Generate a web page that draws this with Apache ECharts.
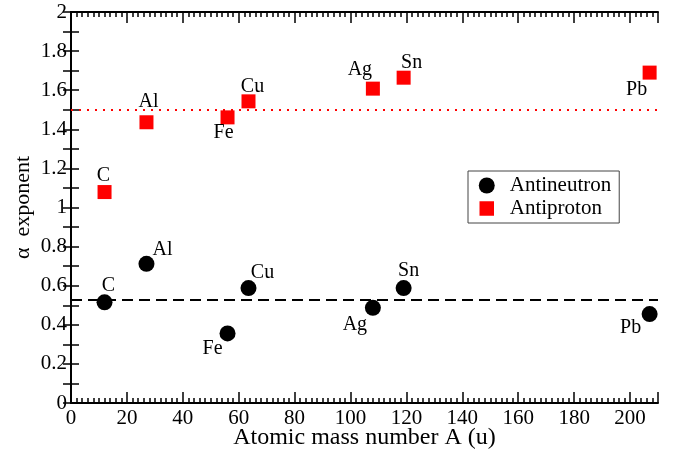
<!DOCTYPE html>
<html>
<head>
<meta charset="utf-8">
<script src="https://cdn.jsdelivr.net/npm/echarts@6/dist/echarts.min.js"></script>
<style>
  html, body { margin: 0; padding: 0; background: #fff; }
  #chart { width: 678px; height: 455px; }
</style>
</head>
<body>
<div id="chart"></div>
<script>
// 数据
var elements = ['C', 'Al', 'Fe', 'Cu', 'Ag', 'Sn', 'Pb'];
var massA = [12, 27, 56, 63.5, 108, 119, 207];
var antineutronAlpha = [0.515, 0.712, 0.356, 0.588, 0.487, 0.588, 0.455];
var antiprotonAlpha = [1.079, 1.436, 1.461, 1.543, 1.608, 1.664, 1.69];
var fitAntineutron = 0.528;
var fitAntiproton = 1.5;
var xTicks = [0, 20, 40, 60, 80, 100, 120, 140, 160, 180, 200];

// 标签偏移(像素)
var neutronOffsets = [[4, -17], [16, -14], [-15, 15], [14, -15], [-18, 17], [5, -17], [-19, 14]];
var protonOffsets = [[-1, -16], [2, -21], [-4, 15], [4, -15], [-13, -19], [8, -15], [-13, 17]];

var FONT = '"Liberation Serif", "Times New Roman", serif';

function buildData(ys, offsets) {
    var data = [];
    for (var i = 0; i < elements.length; i++) {
        data.push({
            name: elements[i],
            value: [massA[i], ys[i]],
            label: { offset: offsets[i] }
        });
    }
    return data;
}

function xAxisDef(pos, step, len, showLabel, showLine) {
    return {
        type: 'value', position: pos, min: 0, max: 210, interval: step,
        nameMoveOverlap: false,
        axisLine: { show: showLine, lineStyle: { color: '#000', width: 2 } },
        axisTick: { show: true, inside: true, length: len, lineStyle: { color: '#000', width: 1.5 } },
        axisLabel: {
            show: showLabel, color: '#000', fontFamily: FONT, fontSize: 21, margin: 5,
            formatter: function (v) { return xTicks.indexOf(v) >= 0 ? String(v) : ''; }
        },
        splitLine: { show: false }
    };
}

function yAxisDef(pos, showLabel) {
    return {
        type: 'value', position: pos, min: 0, max: 2, interval: 0.2,
        name: showLabel ? 'α  exponent' : '',
        nameLocation: 'middle', nameGap: 37, nameMoveOverlap: false,
        nameTextStyle: { color: '#000', fontFamily: FONT, fontSize: 22 },
        axisLine: { show: true, lineStyle: { color: '#000', width: 2 } },
        axisTick: { show: true, inside: true, length: 8, lineStyle: { color: '#000', width: 1.5 } },
        minorTick: { show: true, splitNumber: 2, length: 8, lineStyle: { color: '#000', width: 1.5 } },
        axisLabel: {
            show: showLabel, color: '#000', fontFamily: FONT, fontSize: 21, margin: 4,
            formatter: function (v) { return String(Math.round(v * 10) / 10); }
        },
        splitLine: { show: false }
    };
}

var chart = echarts.init(document.getElementById('chart'));

var xBottom = xAxisDef('bottom', 20, 11, true, true);
xBottom.name = 'Atomic mass number A (u)';
xBottom.nameLocation = 'middle';
xBottom.nameGap = 23;
xBottom.nameTextStyle = { color: '#000', fontFamily: FONT, fontSize: 24 };

var option = {
    animation: false,
    backgroundColor: '#fff',
    grid: { left: 71, right: 20, top: 12, bottom: 52, outerBoundsMode: 'none', containLabel: false },
    legend: {
        orient: 'vertical',
        left: 468, top: 171,
        padding: [4, 8, 4, 10],
        itemGap: 2,
        itemWidth: 16, itemHeight: 16,
        borderColor: '#444', borderWidth: 1,
        textStyle: { color: '#000', fontFamily: FONT, fontSize: 21, padding: [0, 0, 0, 10] },
        data: [
            { name: 'Antineutron', icon: 'circle' },
            { name: 'Antiproton', icon: 'rect', itemStyle: { borderColor: '#fff', borderWidth: 1.5 } }
        ]
    },
    xAxis: [
        xBottom,
        xAxisDef('bottom', 2, 5, false, false),
        xAxisDef('top', 20, 11, false, true),
        xAxisDef('top', 2, 5, false, false)
    ],
    yAxis: [
        yAxisDef('left', true),
        yAxisDef('right', false)
    ],
    series: [
        {
            name: 'Antineutron',
            type: 'scatter',
            symbol: 'circle',
            symbolSize: 16,
            itemStyle: { color: '#000', opacity: 1 },
            label: {
                show: true, position: 'inside', formatter: '{b}',
                color: '#000', fontFamily: FONT, fontSize: 20
            },
            data: buildData(antineutronAlpha, neutronOffsets),
            markLine: {
                silent: true, symbol: 'none', label: { show: false },
                lineStyle: { color: '#000', type: [11, 6], width: 2 },
                data: [{ yAxis: fitAntineutron }]
            },
            z: 3
        },
        {
            name: 'Antiproton',
            type: 'scatter',
            symbol: 'rect',
            symbolSize: 14,
            itemStyle: { color: '#ff0000', opacity: 1 },
            label: {
                show: true, position: 'inside', formatter: '{b}',
                color: '#000', fontFamily: FONT, fontSize: 20
            },
            data: buildData(antiprotonAlpha, protonOffsets),
            markLine: {
                silent: true, symbol: 'none', label: { show: false },
                lineStyle: { color: '#ff0000', type: [2, 6], width: 2 },
                data: [{ yAxis: fitAntiproton }]
            },
            z: 3
        }
    ]
};

chart.setOption(option);
</script>
</body>
</html>
